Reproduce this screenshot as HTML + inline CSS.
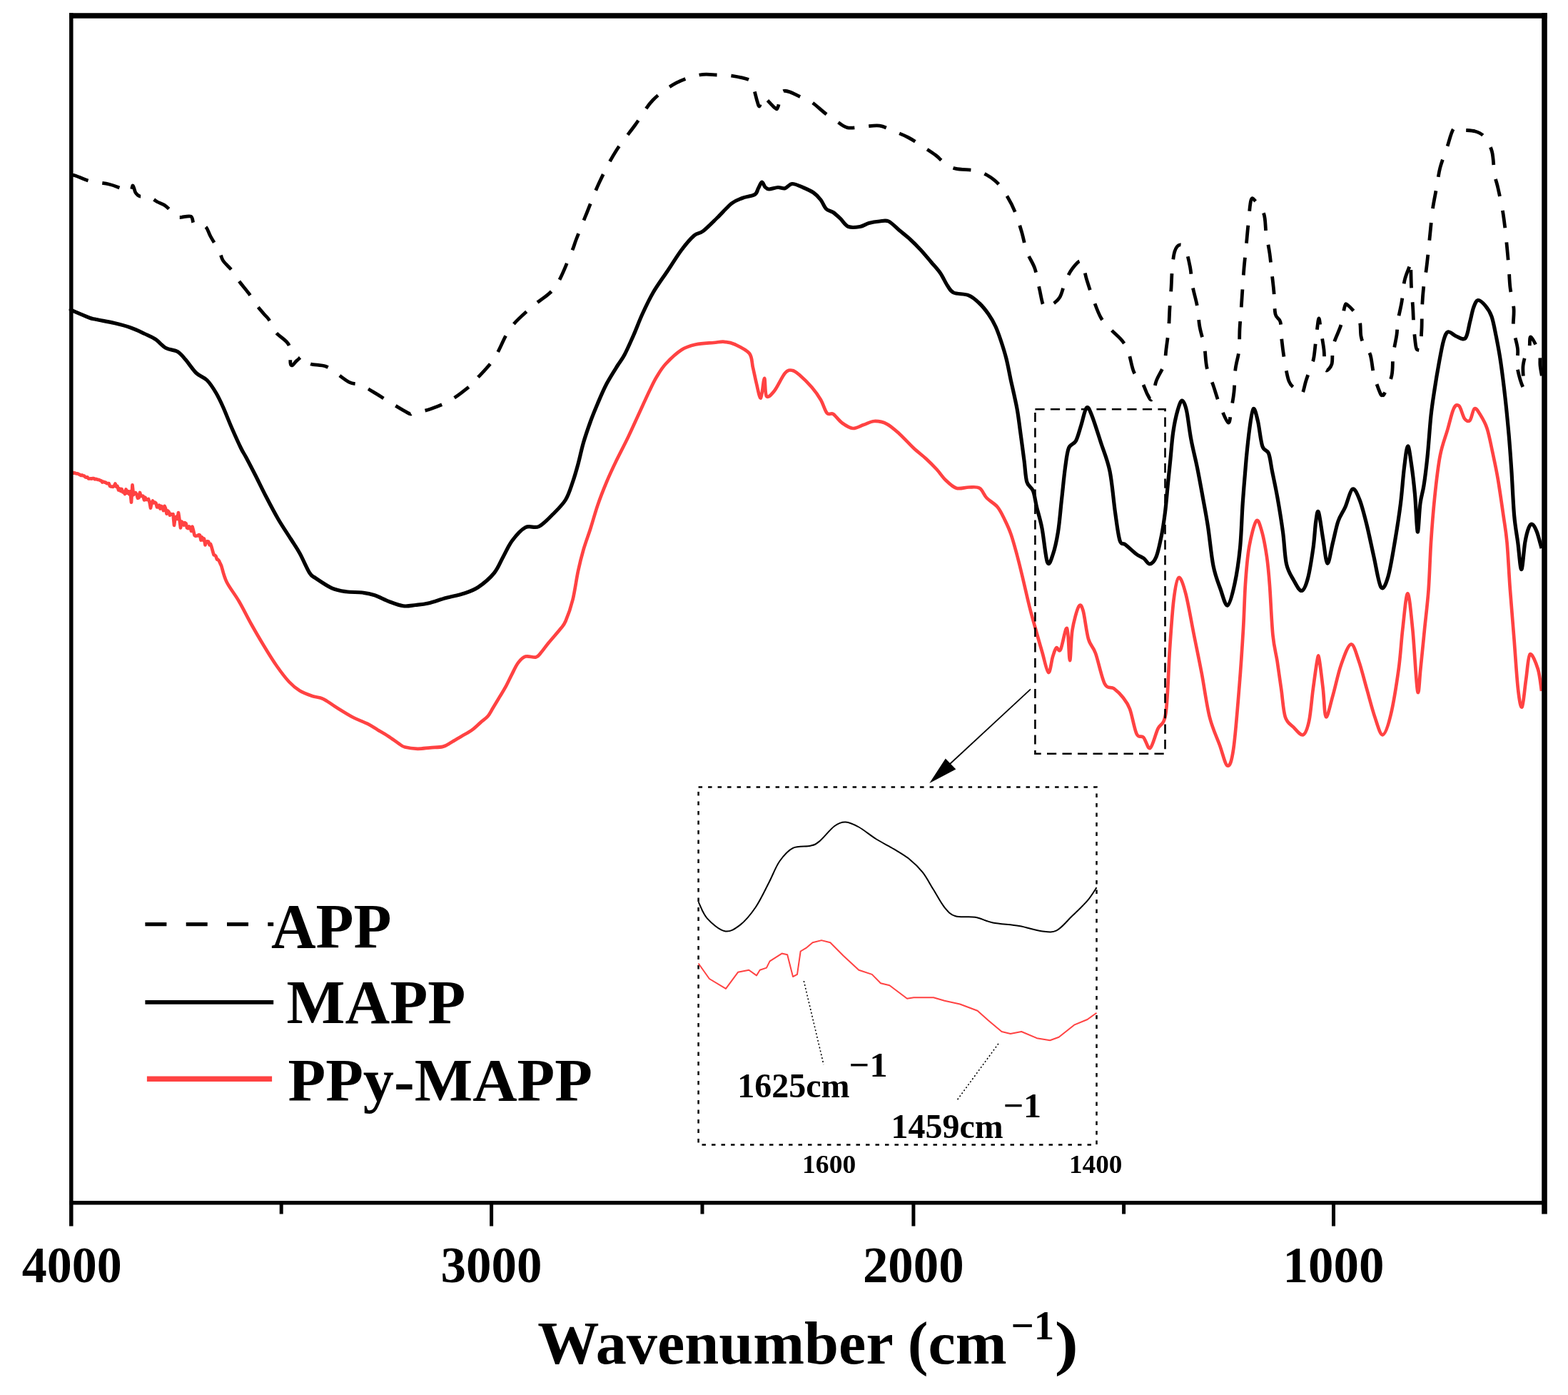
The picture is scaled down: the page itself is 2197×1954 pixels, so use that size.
<!DOCTYPE html>
<html><head><meta charset="utf-8"><title>FTIR spectra</title>
<style>html,body{margin:0;padding:0;background:#fff;}svg{display:block;}</style>
</head><body>
<svg width="2197" height="1954" viewBox="0 0 2197 1954">
<rect width="2197" height="1954" fill="#fff"/>
<g fill="none" stroke-linejoin="round" stroke-linecap="butt">
<path d="M100.0,245.0 C101.0,245.2 101.9,244.8 106.2,246.2 C110.6,247.7 118.5,251.8 126.2,253.8 C134.0,255.7 145.2,256.3 152.5,258.0 C159.8,259.7 165.0,262.1 170.0,263.8 C175.0,265.4 179.8,268.6 182.5,268.0 C185.2,267.4 185.0,259.7 186.2,260.0 C187.5,260.3 188.3,267.5 190.0,270.0 C191.7,272.5 193.3,274.2 196.2,275.0 C199.2,275.8 203.5,273.2 207.5,274.5 C211.5,275.8 215.8,280.1 220.0,282.5 C224.2,284.9 228.1,285.4 232.5,288.8 C236.9,292.1 242.9,299.9 246.2,302.5 C249.6,305.1 249.0,304.4 252.5,304.5 C256.0,304.6 264.2,301.6 267.5,303.2 C270.8,304.9 269.2,312.2 272.5,314.5 C275.8,316.8 283.8,314.2 287.5,317.0 C291.2,319.8 291.7,325.3 295.0,331.2 C298.3,337.2 304.6,346.9 307.5,352.5 C310.4,358.1 309.6,360.6 312.5,365.0 C315.4,369.4 321.2,374.0 325.0,378.8 C328.8,383.5 331.0,388.3 335.0,393.8 C339.0,399.2 344.6,405.5 348.8,411.2 C352.9,417.0 356.5,423.2 360.0,428.0 C363.5,432.8 367.2,436.7 370.0,440.0 C372.8,443.3 374.2,443.7 377.0,448.0 C379.8,452.3 381.9,459.8 386.5,465.7 C391.1,471.6 401.4,475.8 404.9,483.4 C408.4,490.9 405.6,507.4 407.5,511.0 C409.4,514.6 413.2,507.0 416.0,505.0 C418.8,503.0 421.7,499.0 424.0,499.0 C426.3,499.0 428.1,503.2 430.0,505.0 C431.9,506.8 431.1,508.7 435.4,510.0 C439.7,511.3 450.5,511.2 456.0,513.0 C461.5,514.8 462.9,517.0 468.5,520.7 C474.1,524.4 483.0,532.2 489.3,535.4 C495.6,538.6 500.0,537.0 506.4,539.7 C512.8,542.5 521.0,547.8 527.8,551.9 C534.6,556.0 540.6,560.0 547.3,564.1 C554.0,568.2 563.5,573.8 568.1,576.4 C572.7,579.0 573.0,579.6 575.0,580.0 C577.0,580.4 575.0,580.0 579.8,578.8 C584.6,577.6 594.8,575.8 603.6,572.7 C612.4,569.6 622.7,565.9 632.5,560.0 C642.3,554.1 656.9,542.1 662.5,537.5 C668.1,532.9 661.2,538.4 666.2,532.5 C671.2,526.6 684.4,514.1 692.5,502.0 C700.6,489.9 706.2,472.0 715.0,460.0 C723.8,448.0 734.6,439.6 745.0,430.0 C755.4,420.4 768.3,415.0 777.5,402.5 C786.7,390.0 795.0,366.2 800.0,355.0 C805.0,343.8 803.8,344.6 807.5,335.0 C811.2,325.4 817.1,310.8 822.5,297.5 C827.9,284.2 833.3,269.2 840.0,255.0 C846.7,240.8 854.2,225.8 862.5,212.5 C870.8,199.2 881.2,187.1 890.0,175.0 C898.8,162.9 905.4,149.8 915.0,140.0 C924.6,130.2 936.7,122.1 947.5,116.2 C958.3,110.4 970.4,106.9 980.0,105.0 C989.6,103.1 997.5,104.8 1005.0,105.0 C1012.5,105.2 1017.5,105.1 1025.0,106.2 C1032.5,107.4 1045.0,109.7 1050.0,112.0 C1055.0,114.3 1053.2,115.0 1055.0,120.0 C1056.8,125.0 1059.5,137.2 1061.0,142.0 C1062.5,146.8 1063.0,149.3 1064.0,149.0 C1065.0,148.7 1065.9,142.2 1067.0,140.0 C1068.1,137.8 1067.4,134.2 1070.5,136.0 C1073.6,137.8 1082.5,148.7 1085.7,151.0 C1089.0,153.3 1088.0,153.9 1090.0,150.0 C1092.0,146.1 1092.0,129.8 1097.8,127.6 C1103.5,125.4 1117.7,134.3 1124.5,137.0 C1131.3,139.7 1133.2,140.3 1138.6,144.0 C1143.9,147.7 1150.9,154.7 1156.6,159.0 C1162.2,163.3 1167.3,166.7 1172.5,170.0 C1177.7,173.3 1181.2,177.5 1187.5,178.8 C1193.8,180.0 1202.5,177.9 1210.0,177.5 C1217.5,177.1 1225.4,175.2 1232.5,176.2 C1239.6,177.3 1245.8,181.0 1252.5,183.8 C1259.2,186.5 1265.8,189.0 1272.5,192.5 C1279.2,196.0 1286.0,200.8 1292.5,205.0 C1299.0,209.2 1306.2,213.8 1311.2,217.5 C1316.2,221.2 1317.9,224.4 1322.5,227.5 C1327.1,230.6 1331.5,234.4 1338.8,236.2 C1346.0,238.1 1359.0,237.3 1366.2,238.8 C1373.5,240.2 1377.3,242.1 1382.5,245.0 C1387.7,247.9 1392.7,251.2 1397.5,256.2 C1402.3,261.2 1407.1,268.1 1411.2,275.0 C1415.4,281.9 1419.2,289.4 1422.5,297.5 C1425.8,305.6 1428.5,314.6 1431.2,323.8 C1434.0,332.9 1435.6,343.8 1438.8,352.5 C1441.9,361.2 1447.1,367.7 1450.0,376.2 C1452.9,384.8 1454.2,395.0 1456.2,403.8 C1458.3,412.5 1459.8,424.8 1462.5,428.8 C1465.2,432.7 1468.8,429.6 1472.5,427.5 C1476.2,425.4 1481.7,421.7 1485.0,416.2 C1488.3,410.8 1489.6,401.7 1492.5,395.0 C1495.4,388.3 1498.8,381.0 1502.5,376.2 C1506.2,371.5 1511.7,363.8 1515.0,366.2 C1518.3,368.8 1519.8,382.7 1522.5,391.2 C1525.2,399.8 1527.9,408.5 1531.2,417.5 C1534.6,426.5 1538.3,437.7 1542.5,445.0 C1546.7,452.3 1551.2,455.8 1556.2,461.2 C1561.2,466.7 1568.3,472.1 1572.5,477.5 C1576.7,482.9 1578.5,486.5 1581.2,493.8 C1584.0,501.0 1585.6,514.4 1588.8,521.2 C1591.9,528.1 1596.8,529.7 1600.0,535.0 C1603.2,540.3 1605.7,549.0 1608.0,553.0 C1610.3,557.0 1612.0,562.2 1614.0,559.0 C1616.0,555.8 1617.2,542.0 1620.0,534.0 C1622.8,526.0 1628.7,518.5 1631.0,511.0 C1633.3,503.5 1632.9,497.5 1634.0,489.0 C1635.1,480.5 1636.7,469.7 1637.5,460.0 C1638.3,450.3 1638.4,440.3 1639.0,431.0 C1639.6,421.7 1640.4,413.2 1641.0,404.0 C1641.6,394.8 1641.7,384.7 1642.5,376.0 C1643.3,367.3 1644.2,357.5 1646.0,352.0 C1647.8,346.5 1650.5,343.5 1653.0,343.0 C1655.5,342.5 1658.6,343.8 1661.0,349.0 C1663.4,354.2 1665.8,365.3 1667.5,374.0 C1669.2,382.7 1669.3,391.8 1671.0,401.0 C1672.7,410.2 1675.8,419.5 1677.5,429.0 C1679.2,438.5 1679.3,448.7 1681.0,458.0 C1682.7,467.3 1685.8,475.5 1687.5,485.0 C1689.2,494.5 1688.9,505.8 1691.0,515.0 C1693.1,524.2 1697.0,531.3 1700.0,540.0 C1703.0,548.7 1705.5,558.3 1709.0,567.0 C1712.5,575.7 1718.3,590.8 1721.0,592.0 C1723.7,593.2 1723.7,581.2 1725.0,574.0 C1726.3,566.8 1728.0,558.5 1729.0,549.0 C1730.0,539.5 1729.8,526.7 1731.0,517.0 C1732.2,507.3 1735.0,500.3 1736.0,491.0 C1737.0,481.7 1736.5,470.5 1737.0,461.0 C1737.5,451.5 1738.3,443.5 1739.0,434.0 C1739.7,424.5 1740.3,413.7 1741.0,404.0 C1741.7,394.3 1742.2,385.7 1743.0,376.0 C1743.8,366.3 1745.0,356.3 1746.0,346.0 C1747.0,335.7 1747.8,325.0 1749.0,314.0 C1750.2,303.0 1751.2,285.2 1753.0,280.0 C1754.8,274.8 1757.0,279.7 1760.0,283.0 C1763.0,286.3 1768.7,292.8 1771.0,300.0 C1773.3,307.2 1772.7,316.8 1774.0,326.0 C1775.3,335.2 1777.7,345.7 1779.0,355.0 C1780.3,364.3 1781.0,372.8 1782.0,382.0 C1783.0,391.2 1784.2,400.3 1785.0,410.0 C1785.8,419.7 1785.5,433.2 1787.0,440.0 C1788.5,446.8 1792.5,444.8 1794.0,451.0 C1795.5,457.2 1795.0,467.8 1796.0,477.0 C1797.0,486.2 1798.3,496.5 1800.0,506.0 C1801.7,515.5 1803.5,527.5 1806.0,534.0 C1808.5,540.5 1812.0,542.0 1815.0,545.0 C1818.0,548.0 1821.5,554.0 1824.0,552.0 C1826.5,550.0 1827.7,540.0 1830.0,533.0 C1832.3,526.0 1836.2,515.5 1838.0,510.0 C1839.8,504.5 1839.8,507.5 1841.0,500.0 C1842.2,492.5 1843.8,474.0 1845.0,465.0 C1846.2,456.0 1847.0,446.0 1848.0,446.0 C1849.0,446.0 1849.8,457.7 1851.0,465.0 C1852.2,472.3 1854.0,481.2 1855.0,490.0 C1856.0,498.8 1855.2,514.7 1857.0,518.0 C1858.8,521.3 1864.2,515.7 1866.0,510.0 C1867.8,504.3 1865.8,493.2 1868.0,484.0 C1870.2,474.8 1876.3,464.0 1879.0,455.0 C1881.7,446.0 1882.5,434.7 1884.0,430.0 C1885.5,425.3 1884.7,424.3 1888.0,427.0 C1891.3,429.7 1900.8,438.7 1904.0,446.0 C1907.2,453.3 1905.7,464.5 1907.0,471.0 C1908.3,477.5 1909.8,480.7 1912.0,485.0 C1914.2,489.3 1917.8,490.3 1920.0,497.0 C1922.2,503.7 1922.7,516.0 1925.0,525.0 C1927.3,534.0 1932.0,546.3 1934.0,551.0 C1936.0,555.7 1936.0,553.0 1937.0,553.0 C1938.0,553.0 1937.8,555.5 1940.0,551.0 C1942.2,546.5 1948.0,535.0 1950.0,526.0 C1952.0,517.0 1950.8,506.5 1952.0,497.0 C1953.2,487.5 1955.9,476.8 1957.0,469.0 C1958.1,461.2 1957.3,457.7 1958.5,450.0 C1959.7,442.3 1962.4,432.5 1964.0,423.0 C1965.6,413.5 1966.2,401.3 1968.0,393.0 C1969.8,384.7 1973.6,377.2 1975.0,373.0 C1976.4,368.8 1976.1,363.2 1976.5,368.0 C1976.9,372.8 1977.0,391.7 1977.5,402.0 C1978.0,412.3 1979.0,420.7 1979.6,430.0 C1980.2,439.3 1980.3,448.7 1981.0,458.0 C1981.7,467.3 1983.0,480.7 1984.0,486.0 C1985.0,491.3 1986.0,489.8 1987.0,490.0 C1988.0,490.2 1989.2,492.0 1990.0,487.0 C1990.8,482.0 1991.6,469.0 1992.0,460.0 C1992.4,451.0 1992.1,442.5 1992.5,433.0 C1992.9,423.5 1993.6,412.3 1994.6,403.0 C1995.6,393.7 1997.3,386.0 1998.5,377.0 C1999.7,368.0 2000.6,358.5 2001.6,349.0 C2002.6,339.5 2003.5,329.5 2004.5,320.0 C2005.5,310.5 2006.1,301.7 2007.5,292.0 C2008.9,282.3 2011.3,271.5 2013.0,262.0 C2014.7,252.5 2015.4,244.2 2017.8,235.0 C2020.2,225.8 2024.2,216.2 2027.4,207.0 C2030.6,197.8 2033.4,184.2 2037.0,180.0 C2040.6,175.8 2044.0,181.3 2049.0,182.0 C2054.0,182.7 2061.9,182.4 2067.0,184.0 C2072.1,185.6 2075.6,186.8 2079.5,191.5 C2083.4,196.2 2088.0,203.3 2090.4,212.0 C2092.8,220.7 2092.6,235.0 2094.0,243.5 C2095.4,252.0 2097.0,254.9 2098.8,263.0 C2100.6,271.1 2103.3,283.0 2104.9,292.0 C2106.5,301.0 2107.4,308.0 2108.5,317.0 C2109.6,326.0 2110.6,336.5 2111.5,346.0 C2112.4,355.5 2113.2,364.5 2114.0,374.0 C2114.8,383.5 2114.8,393.3 2116.0,403.0 C2117.2,412.7 2120.2,422.5 2121.0,432.0 C2121.8,441.5 2119.6,450.5 2120.5,460.0 C2121.4,469.5 2125.6,479.8 2126.5,489.0 C2127.4,498.2 2124.6,505.8 2126.0,515.0 C2127.4,524.2 2133.7,544.3 2135.0,544.0 C2136.3,543.7 2133.2,522.0 2134.0,513.0 C2134.8,504.0 2138.5,494.5 2140.0,490.0 C2141.5,485.5 2142.2,489.0 2143.0,486.0 C2143.8,483.0 2142.7,470.7 2145.0,472.0 C2147.3,473.3 2154.4,487.3 2156.6,494.0 C2158.8,500.7 2157.4,506.5 2158.0,512.0 C2158.6,517.5 2160.0,524.5 2160.4,527.0" stroke="#000" stroke-width="4.8" stroke-dasharray="25 20"/>
<path d="M100.0,434.0 C100.2,434.2 97.1,433.2 101.2,435.0 C105.4,436.8 119.4,442.9 125.0,445.0 C130.6,447.1 129.2,446.2 135.0,447.5 C140.8,448.8 152.1,450.6 160.0,452.5 C167.9,454.4 175.4,456.2 182.5,458.8 C189.6,461.2 196.7,464.8 202.5,467.5 C208.3,470.2 212.5,471.7 217.5,475.0 C222.5,478.3 227.3,484.6 232.5,487.5 C237.7,490.4 244.2,489.8 248.8,492.5 C253.3,495.2 255.6,498.8 260.0,503.8 C264.4,508.8 270.0,517.7 275.0,522.5 C280.0,527.3 285.4,527.9 290.0,532.5 C294.6,537.1 298.8,543.8 302.5,550.0 C306.2,556.2 308.8,561.7 312.5,570.0 C316.2,578.3 320.8,590.4 325.0,600.0 C329.2,609.6 334.2,620.7 337.5,627.5 C340.8,634.3 341.7,634.8 345.0,641.0 C348.3,647.2 352.9,656.0 357.5,665.0 C362.1,674.0 367.1,684.6 372.5,695.0 C377.9,705.4 384.2,717.5 390.0,727.5 C395.8,737.5 402.5,747.1 407.5,755.0 C412.5,762.9 415.6,767.1 420.0,775.0 C424.4,782.9 430.0,796.7 433.8,802.5 C437.5,808.3 437.3,806.5 442.5,810.0 C447.7,813.5 457.9,820.6 465.0,823.8 C472.1,826.9 477.9,827.7 485.0,828.8 C492.1,829.8 500.8,829.2 507.5,830.0 C514.2,830.8 518.8,831.7 525.0,833.8 C531.2,835.8 538.3,840.0 545.0,842.5 C551.7,845.0 558.8,847.9 565.0,848.8 C571.2,849.6 576.7,848.1 582.5,847.5 C588.3,846.9 592.9,846.7 600.0,845.0 C607.1,843.3 616.7,839.8 625.0,837.5 C633.3,835.2 642.5,833.8 650.0,831.2 C657.5,828.8 662.9,827.3 670.0,822.5 C677.1,817.7 686.7,809.6 692.5,802.5 C698.3,795.4 700.8,787.5 705.0,780.0 C709.2,772.5 712.3,764.4 717.5,757.5 C722.7,750.6 730.0,742.1 736.2,738.8 C742.5,735.4 748.5,740.6 755.0,737.5 C761.5,734.4 768.8,726.2 775.0,720.0 C781.2,713.8 787.9,707.5 792.5,700.0 C797.1,692.5 799.6,683.3 802.5,675.0 C805.4,666.7 807.5,659.2 810.0,650.0 C812.5,640.8 814.6,630.0 817.5,620.0 C820.4,610.0 824.2,599.2 827.5,590.0 C830.8,580.8 833.8,573.8 837.5,565.0 C841.2,556.2 845.4,546.2 850.0,537.5 C854.6,528.8 860.8,519.2 865.0,512.5 C869.2,505.8 871.2,504.1 875.0,497.0 C878.8,489.9 883.3,479.5 887.5,470.0 C891.7,460.5 895.4,450.0 900.0,440.0 C904.6,430.0 909.2,420.0 915.0,410.0 C920.8,400.0 928.3,390.0 935.0,380.0 C941.7,370.0 948.8,358.3 955.0,350.0 C961.2,341.7 967.5,334.4 972.5,330.0 C977.5,325.6 979.6,327.9 985.0,323.8 C990.4,319.6 998.3,311.5 1005.0,305.0 C1011.7,298.5 1019.2,289.6 1025.0,285.0 C1030.8,280.4 1034.6,279.6 1040.0,277.5 C1045.4,275.4 1053.8,274.8 1057.5,272.5 C1061.2,270.2 1060.8,266.7 1062.5,263.8 C1064.2,260.8 1065.9,255.3 1067.5,255.0 C1069.1,254.7 1070.3,260.3 1072.0,262.0 C1073.7,263.7 1074.5,264.9 1077.5,265.0 C1080.5,265.1 1086.2,262.7 1090.0,262.5 C1093.8,262.3 1096.7,264.6 1100.0,263.8 C1103.3,262.9 1105.8,257.7 1110.0,257.5 C1114.2,257.3 1120.0,260.4 1125.0,262.5 C1130.0,264.6 1135.8,267.1 1140.0,270.0 C1144.2,272.9 1147.1,276.2 1150.0,280.0 C1152.9,283.8 1154.6,289.6 1157.5,292.5 C1160.4,295.4 1164.2,295.2 1167.5,297.5 C1170.8,299.8 1174.0,302.9 1177.5,306.2 C1181.0,309.6 1184.2,315.6 1188.8,317.5 C1193.3,319.4 1200.2,318.3 1205.0,317.5 C1209.8,316.7 1212.9,313.8 1217.5,312.5 C1222.1,311.2 1227.9,310.4 1232.5,310.0 C1237.1,309.6 1240.4,307.9 1245.0,310.0 C1249.6,312.1 1255.0,318.3 1260.0,322.5 C1265.0,326.7 1270.0,330.4 1275.0,335.0 C1280.0,339.6 1285.0,344.6 1290.0,350.0 C1295.0,355.4 1300.4,362.1 1305.0,367.5 C1309.6,372.9 1313.8,377.1 1317.5,382.5 C1321.2,387.9 1324.4,395.4 1327.5,400.0 C1330.6,404.6 1331.2,407.7 1336.2,410.0 C1341.2,412.3 1351.5,411.2 1357.5,413.8 C1363.5,416.2 1367.9,420.6 1372.5,425.0 C1377.1,429.4 1381.2,434.6 1385.0,440.0 C1388.8,445.4 1392.1,451.2 1395.0,457.5 C1397.9,463.8 1400.0,470.0 1402.5,477.5 C1405.0,485.0 1407.7,493.4 1410.0,502.5 C1412.3,511.6 1413.8,520.3 1416.2,532.0 C1418.8,543.7 1422.7,559.9 1425.0,572.5 C1427.3,585.1 1428.3,595.4 1430.0,607.5 C1431.7,619.6 1433.5,633.8 1435.0,645.0 C1436.5,656.2 1436.7,667.9 1438.8,675.0 C1440.8,682.1 1445.2,681.7 1447.5,687.5 C1449.8,693.3 1450.4,701.2 1452.5,710.0 C1454.6,718.8 1457.5,727.1 1460.0,740.0 C1462.5,752.9 1465.0,781.2 1467.5,787.5 C1470.0,793.8 1472.5,784.6 1475.0,777.5 C1477.5,770.4 1480.4,757.9 1482.5,745.0 C1484.6,732.1 1485.8,715.0 1487.5,700.0 C1489.2,685.0 1490.8,667.1 1492.5,655.0 C1494.2,642.9 1495.0,633.8 1497.5,627.5 C1500.0,621.2 1504.6,622.9 1507.5,617.5 C1510.4,612.1 1512.5,602.8 1515.0,595.0 C1517.5,587.2 1520.0,573.1 1522.5,571.0 C1525.0,568.9 1526.7,574.3 1530.0,582.5 C1533.3,590.7 1538.3,607.1 1542.5,620.0 C1546.7,632.9 1551.7,643.8 1555.0,660.0 C1558.3,676.2 1560.2,701.3 1562.5,717.5 C1564.8,733.7 1566.6,749.4 1569.0,757.0 C1571.4,764.6 1573.2,759.8 1577.0,763.0 C1580.8,766.2 1587.8,772.8 1592.0,776.0 C1596.2,779.2 1599.3,779.7 1602.5,782.0 C1605.7,784.3 1608.1,790.3 1611.0,790.0 C1613.9,789.7 1617.2,786.7 1620.0,780.0 C1622.8,773.3 1625.4,760.4 1627.5,750.0 C1629.6,739.6 1631.0,729.2 1632.5,717.5 C1634.0,705.8 1635.0,692.5 1636.2,680.0 C1637.5,667.5 1638.8,655.0 1640.0,642.5 C1641.2,630.0 1642.1,616.2 1643.8,605.0 C1645.4,593.8 1647.9,582.3 1650.0,575.0 C1652.1,567.7 1654.2,561.2 1656.2,561.2 C1658.3,561.2 1660.4,566.0 1662.5,575.0 C1664.6,584.0 1666.2,601.7 1668.8,615.0 C1671.2,628.3 1674.8,641.7 1677.5,655.0 C1680.2,668.3 1682.5,681.2 1685.0,695.0 C1687.5,708.8 1690.0,721.2 1692.5,737.5 C1695.0,753.8 1697.1,777.9 1700.0,792.5 C1702.9,807.1 1706.7,815.8 1710.0,825.0 C1713.3,834.2 1716.7,849.2 1720.0,848.0 C1723.3,846.8 1727.1,830.9 1730.0,817.5 C1732.9,804.1 1735.6,786.2 1737.5,767.5 C1739.4,748.8 1739.8,725.8 1741.2,705.0 C1742.7,684.2 1744.6,660.4 1746.2,642.5 C1747.9,624.6 1749.6,609.2 1751.2,597.5 C1752.9,585.8 1754.4,573.8 1756.2,572.5 C1758.1,571.2 1760.4,581.2 1762.5,590.0 C1764.6,598.8 1766.2,617.5 1768.8,625.0 C1771.2,632.5 1775.2,629.2 1777.5,635.0 C1779.8,640.8 1780.4,649.6 1782.5,660.0 C1784.6,670.4 1787.5,683.3 1790.0,697.5 C1792.5,711.7 1795.4,729.6 1797.5,745.0 C1799.6,760.4 1800.0,778.8 1802.5,790.0 C1805.0,801.2 1809.0,806.2 1812.5,812.5 C1816.0,818.8 1820.4,827.9 1823.8,827.5 C1827.1,827.1 1829.8,820.0 1832.5,810.0 C1835.2,800.0 1838.1,780.8 1840.0,767.5 C1841.9,754.2 1842.5,738.3 1843.8,730.0 C1845.0,721.7 1845.8,713.3 1847.5,717.5 C1849.2,721.7 1851.7,743.1 1853.8,755.0 C1855.8,766.9 1857.7,788.2 1860.0,789.0 C1862.3,789.8 1865.0,769.8 1867.5,760.0 C1870.0,750.2 1872.1,738.3 1875.0,730.0 C1877.9,721.7 1881.7,717.5 1885.0,710.0 C1888.3,702.5 1891.7,686.7 1895.0,685.0 C1898.3,683.3 1901.7,691.7 1905.0,700.0 C1908.3,708.3 1911.7,721.7 1915.0,735.0 C1918.3,748.3 1921.7,765.4 1925.0,780.0 C1928.3,794.6 1931.7,817.9 1935.0,822.5 C1938.3,827.1 1941.7,818.8 1945.0,807.5 C1948.3,796.2 1952.1,772.1 1955.0,755.0 C1957.9,737.9 1960.4,721.7 1962.5,705.0 C1964.6,688.3 1965.8,668.3 1967.5,655.0 C1969.2,641.7 1970.8,625.8 1972.5,625.0 C1974.2,624.2 1975.8,638.8 1977.5,650.0 C1979.2,661.2 1981.0,676.7 1982.5,692.5 C1984.0,708.3 1985.0,742.9 1986.2,745.0 C1987.5,747.1 1988.5,715.8 1990.0,705.0 C1991.5,694.2 1993.3,690.8 1995.0,680.0 C1996.7,669.2 1998.3,656.3 2000.0,640.0 C2001.7,623.7 2003.3,597.9 2005.0,582.0 C2006.7,566.1 2008.3,557.1 2010.2,544.5 C2012.1,531.9 2014.5,517.9 2016.6,506.5 C2018.7,495.1 2020.8,483.1 2022.9,476.2 C2025.0,469.2 2026.2,465.6 2029.2,464.8 C2032.2,464.0 2036.6,469.6 2040.6,471.1 C2044.6,472.6 2050.1,477.0 2053.3,473.6 C2056.5,470.2 2057.7,458.1 2059.6,450.9 C2061.5,443.7 2062.8,435.7 2064.7,430.6 C2066.6,425.5 2068.3,420.9 2071.0,420.5 C2073.7,420.1 2077.9,424.3 2081.1,428.1 C2084.3,431.9 2087.5,436.1 2090.0,443.3 C2092.5,450.5 2094.2,460.6 2096.3,471.1 C2098.4,481.6 2100.5,492.1 2102.6,506.5 C2104.7,520.9 2107.1,540.3 2109.0,557.2 C2110.9,574.1 2112.5,590.9 2114.0,607.8 C2115.5,624.7 2116.5,639.4 2117.8,658.4 C2119.1,677.4 2120.1,704.8 2121.6,721.7 C2123.1,738.6 2125.0,747.0 2126.7,759.6 C2128.4,772.2 2130.0,797.6 2131.7,797.6 C2133.4,797.6 2135.1,769.3 2136.8,759.6 C2138.5,749.9 2140.2,743.6 2141.9,739.4 C2143.6,735.2 2145.0,733.4 2146.9,734.3 C2148.8,735.1 2151.0,738.9 2153.2,744.5 C2155.4,750.1 2158.9,764.1 2160.0,768.0" stroke="#000" stroke-width="5.2"/>
<path d="M100.0,661.0 L101.5,661.7 L103.0,662.7 L104.5,662.4 L106.0,663.0 L107.5,663.5 L109.0,663.4 L110.5,664.3 L112.0,665.0 L113.5,665.9 L115.0,665.4 L116.5,666.3 L118.0,666.6 L119.5,668.3 L121.0,668.7 L122.5,668.3 L124.0,670.3 L125.5,670.5 L127.0,670.3 L128.5,670.6 L130.0,670.1 L131.5,670.2 L133.0,671.3 L134.5,670.9 L136.0,671.4 L137.5,672.0 L139.0,672.1 L140.5,673.1 L142.0,673.5 L143.5,675.5 L145.0,674.7 L146.5,675.6 L148.0,675.7 L149.5,677.1 L151.0,677.1 L152.5,677.1 L154.0,680.8 L155.5,681.5 L157.0,681.7 L158.5,681.9 L160.0,680.5 L161.5,677.5 L163.0,681.8 L164.5,681.0 L166.0,686.5 L167.5,684.4 L169.0,687.8 L170.5,685.0 L172.0,689.3 L173.5,688.9 L175.0,692.0 L176.5,685.5 L178.0,690.7 L179.5,688.1 L181.0,692.1 L182.5,688.5 L184.0,703.7 L185.5,679.3 L187.0,693.1 L188.5,690.5 L190.0,690.1 L191.5,692.7 L193.0,697.8 L194.5,697.2 L196.0,690.0 L197.5,694.9 L199.0,694.5 L200.5,694.8 L202.0,700.4 L203.5,696.8 L205.0,700.0 L206.5,699.9 L208.0,699.0 L209.5,703.4 L211.0,711.6 L212.5,704.3 L214.0,701.5 L215.5,704.3 L217.0,703.6 L218.5,704.9 L220.0,710.5 L221.5,710.3 L223.0,707.8 L224.5,712.6 L226.0,708.9 L227.5,711.1 L229.0,715.1 L230.5,708.8 L232.0,712.3 L233.5,719.6 L235.0,715.5 L236.5,717.0 L238.0,721.7 L239.5,719.9 L241.0,720.9 L242.5,720.1 L244.0,735.8 L245.5,725.2 L247.0,723.7 L248.5,726.9 L250.0,718.0 L251.5,727.9 L253.0,739.4 L254.5,730.5 L256.0,732.3 L257.5,735.5 L259.0,732.1 L260.5,733.1 L262.0,739.4 L263.5,740.0 L265.0,737.5 L266.5,738.6 L268.0,743.9 L269.5,737.7 L271.0,743.2 L272.5,749.8 L274.0,750.9 L275.5,750.5 L277.0,750.4 L278.5,749.1 L280.0,749.5 L281.5,756.6 L283.0,752.5 L284.5,756.5 L286.0,754.6 L287.5,763.4 L289.0,759.2 L290.5,758.2 L292.0,758.5 L293.5,763.3 L295.0,761.9 L296.5,766.3 L298.0,771.9 L299.5,777.2 L301.0,777.7 L302.5,779.2 L304.0,783.6 L305.5,783.9 L307.0,785.8 L308.5,789.1 L310.2,792.6 C311.4,796.3 313.4,806.7 317.5,815.0 C321.6,823.3 329.2,832.5 335.0,842.5 C340.8,852.5 346.7,864.6 352.5,875.0 C358.3,885.4 364.2,895.4 370.0,905.0 C375.8,914.6 381.7,924.2 387.5,932.5 C393.3,940.8 399.6,949.2 405.0,955.0 C410.4,960.8 414.6,964.2 420.0,967.5 C425.4,970.8 432.1,973.1 437.5,975.0 C442.9,976.9 447.1,976.2 452.5,978.8 C457.9,981.2 462.9,985.6 470.0,990.0 C477.1,994.4 487.6,1001.1 495.0,1005.0 C502.4,1008.9 509.0,1010.7 514.7,1013.6 C520.4,1016.5 524.5,1019.5 529.4,1022.4 C534.3,1025.3 539.1,1028.0 544.0,1031.2 C548.9,1034.4 554.8,1038.9 558.7,1041.5 C562.6,1044.1 563.1,1045.4 567.5,1046.6 C571.9,1047.8 579.2,1048.7 585.1,1048.8 C591.0,1048.9 596.8,1047.8 602.7,1047.3 C608.6,1046.8 615.5,1047.1 620.4,1045.9 C625.3,1044.7 627.7,1042.5 632.1,1040.0 C636.5,1037.5 641.9,1034.1 646.8,1031.2 C651.7,1028.3 657.1,1025.6 661.5,1022.4 C665.9,1019.2 669.5,1015.3 673.2,1012.1 C676.9,1008.9 680.6,1006.7 683.5,1003.3 C686.4,999.9 688.1,995.9 690.8,991.5 C693.5,987.1 696.7,981.8 699.6,976.9 C702.5,972.0 705.5,967.6 708.4,962.2 C711.3,956.8 714.3,950.2 717.2,944.6 C720.1,939.0 722.8,932.6 726.0,928.4 C729.2,924.2 732.1,920.9 736.3,919.6 C740.5,918.3 747.3,921.4 751.0,920.4 C754.7,919.4 755.4,917.1 758.3,913.8 C761.2,910.5 764.2,905.9 768.6,900.5 C773.0,895.1 780.7,886.6 784.7,881.5 C788.7,876.4 789.5,876.9 792.5,870.0 C795.5,863.1 799.6,851.7 802.5,840.0 C805.4,828.3 807.5,811.7 810.0,800.0 C812.5,788.3 814.6,780.0 817.5,770.0 C820.4,760.0 824.2,750.4 827.5,740.0 C830.8,729.6 833.8,718.3 837.5,707.5 C841.2,696.7 845.8,685.0 850.0,675.0 C854.2,665.0 857.5,657.9 862.5,647.5 C867.5,637.1 874.6,623.8 880.0,612.5 C885.4,601.2 890.0,590.8 895.0,580.0 C900.0,569.2 905.8,556.2 910.0,547.5 C914.2,538.8 916.2,534.2 920.0,528.0 C923.8,521.8 926.7,516.3 932.5,510.0 C938.3,503.7 947.9,494.6 955.0,490.0 C962.1,485.4 967.5,484.2 975.0,482.5 C982.5,480.8 993.3,480.6 1000.0,480.0 C1006.7,479.4 1010.0,478.3 1015.0,478.8 C1020.0,479.2 1024.2,479.8 1030.0,482.5 C1035.8,485.2 1045.8,489.6 1050.0,495.0 C1054.2,500.4 1053.3,507.9 1055.0,515.0 C1056.7,522.1 1058.2,530.4 1060.0,537.5 C1061.8,544.6 1064.2,558.8 1066.0,557.5 C1067.8,556.2 1069.7,530.4 1071.0,530.0 C1072.3,529.6 1071.7,552.1 1074.0,555.0 C1076.3,557.9 1080.7,552.9 1085.0,547.5 C1089.3,542.1 1095.8,527.3 1100.0,522.5 C1104.2,517.7 1106.7,518.3 1110.0,518.8 C1113.3,519.2 1115.4,521.0 1120.0,525.0 C1124.6,529.0 1132.5,536.7 1137.5,542.5 C1142.5,548.3 1146.5,554.0 1150.0,560.0 C1153.5,566.0 1155.8,575.4 1158.8,578.8 C1161.7,582.1 1164.0,577.7 1167.5,580.0 C1171.0,582.3 1175.4,589.2 1180.0,592.5 C1184.6,595.8 1190.0,599.6 1195.0,600.0 C1200.0,600.4 1205.0,596.7 1210.0,595.0 C1215.0,593.3 1219.6,590.2 1225.0,590.0 C1230.4,589.8 1236.7,590.8 1242.5,593.8 C1248.3,596.7 1253.8,601.9 1260.0,607.5 C1266.2,613.1 1273.8,621.7 1280.0,627.5 C1286.2,633.3 1292.1,637.5 1297.5,642.5 C1302.9,647.5 1307.9,652.5 1312.5,657.5 C1317.1,662.5 1320.4,668.1 1325.0,672.5 C1329.6,676.9 1334.6,682.1 1340.0,683.8 C1345.4,685.4 1352.1,682.5 1357.5,682.5 C1362.9,682.5 1368.3,681.2 1372.5,683.8 C1376.7,686.2 1378.3,693.1 1382.5,697.5 C1386.7,701.9 1393.3,705.0 1397.5,710.0 C1401.7,715.0 1404.4,721.2 1407.5,727.5 C1410.6,733.8 1413.3,739.2 1416.2,747.5 C1419.2,755.8 1422.3,767.5 1425.0,777.5 C1427.7,787.5 1429.6,795.4 1432.5,807.5 C1435.4,819.6 1439.6,838.3 1442.5,850.0 C1445.4,861.7 1447.1,867.1 1450.0,877.5 C1452.9,887.9 1456.8,901.8 1460.0,912.5 C1463.2,923.2 1466.5,940.8 1469.0,942.0 C1471.5,943.2 1473.2,925.8 1475.0,920.0 C1476.8,914.2 1478.2,909.2 1480.0,907.5 C1481.8,905.8 1483.5,914.6 1486.0,910.0 C1488.5,905.4 1492.8,877.5 1495.0,880.0 C1497.2,882.5 1497.8,924.6 1499.0,925.0 C1500.2,925.4 1500.5,895.0 1502.5,882.5 C1504.5,870.0 1508.8,854.6 1511.2,850.0 C1513.8,845.4 1515.2,847.5 1517.5,855.0 C1519.8,862.5 1522.1,885.0 1525.0,895.0 C1527.9,905.0 1531.2,904.5 1535.0,915.0 C1538.8,925.5 1543.6,949.7 1547.9,957.9 C1552.2,966.1 1556.4,961.1 1560.7,964.3 C1565.0,967.5 1569.8,972.2 1573.5,977.0 C1577.2,981.8 1579.8,984.5 1583.0,993.0 C1586.2,1001.5 1589.4,1021.4 1592.6,1028.0 C1595.8,1034.6 1599.0,1029.5 1602.2,1032.8 C1605.4,1036.1 1608.2,1050.0 1611.5,1048.0 C1614.8,1046.0 1618.6,1029.2 1622.3,1021.0 C1626.0,1012.8 1630.7,1017.3 1633.5,998.7 C1636.3,980.1 1637.2,935.9 1639.0,909.4 C1640.8,882.9 1642.5,856.4 1644.6,839.7 C1646.7,823.0 1648.8,810.4 1651.6,809.0 C1654.4,807.6 1657.8,818.3 1661.3,831.3 C1664.8,844.3 1668.8,868.5 1672.5,887.1 C1676.2,905.7 1680.0,923.4 1683.7,942.9 C1687.4,962.4 1690.6,987.5 1694.8,1004.2 C1699.0,1020.9 1704.6,1031.9 1708.8,1043.3 C1713.0,1054.7 1716.7,1071.7 1719.9,1072.6 C1723.2,1073.5 1725.5,1067.7 1728.3,1048.9 C1731.1,1030.1 1734.3,987.6 1736.6,959.6 C1738.9,931.6 1740.6,904.7 1742.0,881.0 C1743.4,857.3 1743.7,836.4 1745.0,817.5 C1746.3,798.6 1747.5,782.1 1750.0,767.5 C1752.5,752.9 1757.1,734.2 1760.0,730.0 C1762.9,725.8 1765.0,734.2 1767.5,742.5 C1770.0,750.8 1773.1,767.1 1775.0,780.0 C1776.9,792.9 1777.6,801.7 1779.0,820.0 C1780.4,838.3 1781.7,872.3 1783.5,890.0 C1785.3,907.7 1787.6,913.7 1789.6,926.2 C1791.5,938.7 1793.3,952.2 1795.2,965.2 C1797.1,978.2 1798.0,995.4 1800.8,1004.2 C1803.6,1013.0 1807.7,1014.0 1811.9,1018.2 C1816.1,1022.4 1822.2,1030.7 1825.9,1029.3 C1829.6,1027.9 1831.9,1020.5 1834.2,1009.8 C1836.5,999.1 1837.9,979.1 1839.8,965.2 C1841.7,951.3 1844.0,933.4 1845.4,926.2 C1846.8,919.0 1846.8,915.5 1848.2,922.0 C1849.6,928.5 1852.2,951.5 1853.8,965.2 C1855.4,978.9 1855.7,1002.8 1858.0,1004.2 C1860.3,1005.6 1864.2,985.7 1867.7,973.6 C1871.2,961.5 1874.7,943.6 1878.9,931.7 C1883.1,919.9 1888.6,903.4 1892.8,902.5 C1897.0,901.6 1900.3,915.8 1904.0,926.2 C1907.7,936.7 1911.4,952.2 1915.1,965.2 C1918.8,978.2 1922.6,993.5 1926.3,1004.2 C1930.0,1014.9 1933.7,1029.8 1937.4,1029.3 C1941.1,1028.8 1944.9,1016.8 1948.6,1001.5 C1952.3,986.2 1956.9,957.3 1959.7,937.3 C1962.5,917.3 1963.2,899.2 1965.3,881.5 C1967.4,863.8 1970.0,831.3 1972.3,831.3 C1974.6,831.3 1977.0,858.7 1979.3,881.5 C1981.6,904.3 1984.3,958.7 1986.2,968.0 C1988.1,977.3 1988.8,951.7 1990.4,937.3 C1992.0,922.9 1994.1,900.1 1996.0,881.5 C1997.9,862.9 2000.1,846.0 2001.6,825.8 C2003.1,805.5 2003.6,781.6 2005.0,760.0 C2006.4,738.4 2008.1,716.7 2010.2,696.4 C2012.3,676.1 2014.8,653.8 2017.8,638.2 C2020.8,622.6 2024.8,613.7 2028.0,602.7 C2031.2,591.7 2034.1,578.1 2036.8,572.4 C2039.5,566.7 2041.9,566.3 2044.4,568.6 C2046.9,570.9 2049.5,582.9 2052.0,586.3 C2054.5,589.7 2057.3,591.1 2059.6,588.8 C2061.9,586.5 2063.6,573.9 2065.9,572.4 C2068.2,570.9 2070.6,575.4 2073.5,580.0 C2076.4,584.6 2080.7,591.4 2083.6,600.2 C2086.5,609.1 2088.7,621.3 2091.2,633.1 C2093.7,644.9 2096.3,656.2 2098.8,671.0 C2101.3,685.8 2104.3,706.9 2106.4,721.7 C2108.5,736.5 2109.9,742.2 2111.5,759.6 C2113.1,777.0 2114.2,803.1 2115.9,825.8 C2117.6,848.4 2119.7,872.3 2121.5,895.5 C2123.3,918.7 2125.2,949.4 2127.0,965.2 C2128.8,981.0 2130.7,992.6 2132.6,990.3 C2134.5,988.0 2136.3,963.6 2138.2,951.3 C2140.1,939.0 2141.0,918.7 2143.8,916.4 C2146.6,914.1 2152.2,928.7 2154.9,937.3 C2157.6,945.9 2159.2,962.9 2160.0,968.0" stroke="#FF4242" stroke-width="4.7"/>
</g>
<!-- frame -->
<g stroke="#000" fill="none">
<line x1="99.8" y1="18.3" x2="99.8" y2="1717.5" stroke-width="5.5"/>
<line x1="97" y1="22" x2="2167.8" y2="22" stroke-width="7.6"/>
<line x1="2164" y1="18.3" x2="2164" y2="1700.5" stroke-width="7.6"/>
<line x1="97" y1="1684.8" x2="2167" y2="1684.8" stroke-width="5.4"/>
<line x1="688.6" y1="1684" x2="688.6" y2="1717.5" stroke="#000" stroke-width="5"/><line x1="1279.9" y1="1684" x2="1279.9" y2="1717.5" stroke="#000" stroke-width="5"/><line x1="1868.5" y1="1684" x2="1868.5" y2="1717.5" stroke="#000" stroke-width="5"/><line x1="394.2" y1="1684" x2="394.2" y2="1700.5" stroke="#000" stroke-width="5"/><line x1="984.0" y1="1684" x2="984.0" y2="1700.5" stroke="#000" stroke-width="5"/><line x1="1574.6" y1="1684" x2="1574.6" y2="1700.5" stroke="#000" stroke-width="5"/>
</g>
<!-- zoom box + arrow -->
<rect x="1450.4" y="573.2" width="182.1" height="482.6" fill="none" stroke="#000" stroke-width="2.6" stroke-dasharray="13.2 8.3"/>
<line x1="1444" y1="965.4" x2="1330" y2="1071" stroke="#000" stroke-width="1.8"/>
<polygon points="1302.3,1097 1324.8,1062.5 1339.3,1077.6" fill="#000"/>
<!-- inset -->
<rect x="978.6" y="1102.5" width="557.9" height="501.1" fill="none" stroke="#000" stroke-width="2.5" stroke-dasharray="5.5 8"/>
<path d="M978.6,1263.2 C980.6,1267.0 984.7,1279.5 990.8,1286.3 C996.9,1293.1 1007.7,1302.7 1015.4,1304.2 C1023.1,1305.8 1029.8,1301.1 1037.0,1295.6 C1044.2,1290.1 1051.9,1280.8 1058.6,1271.0 C1065.3,1261.2 1071.4,1247.8 1077.0,1237.0 C1082.6,1226.2 1086.7,1214.5 1092.4,1206.3 C1098.1,1198.1 1103.8,1191.4 1111.0,1187.8 C1118.2,1184.2 1129.3,1186.2 1135.5,1184.7 C1141.7,1183.2 1142.2,1183.2 1147.9,1178.6 C1153.6,1174.0 1163.2,1161.5 1169.4,1157.0 C1175.6,1152.5 1179.2,1151.2 1184.8,1151.5 C1190.4,1151.8 1196.1,1154.5 1203.3,1158.5 C1210.5,1162.5 1219.8,1170.4 1228.0,1175.5 C1236.2,1180.6 1244.9,1184.7 1252.6,1189.3 C1260.3,1193.9 1267.3,1197.8 1274.0,1203.2 C1280.7,1208.6 1286.9,1214.5 1292.6,1221.7 C1298.3,1228.9 1302.9,1238.1 1308.0,1246.3 C1313.1,1254.5 1318.3,1264.8 1323.4,1271.0 C1328.5,1277.2 1331.6,1281.0 1338.8,1283.3 C1346.0,1285.6 1357.8,1283.3 1366.5,1284.8 C1375.2,1286.3 1381.0,1290.5 1391.2,1292.5 C1401.5,1294.5 1416.7,1295.1 1428.0,1297.1 C1439.3,1299.0 1450.2,1303.2 1459.0,1304.2 C1467.8,1305.2 1473.3,1306.8 1480.5,1303.3 C1487.7,1299.8 1494.8,1290.2 1502.0,1283.3 C1509.2,1276.4 1517.8,1268.4 1523.6,1261.7 C1529.3,1255.0 1534.3,1246.3 1536.5,1243.2" fill="none" stroke="#000" stroke-width="2"/>
<path d="M978.6,1349.5 L993.9,1371.0 L1017.0,1384.9 L1034.0,1361.8 L1049.3,1358.7 L1060.0,1366.4 L1064.7,1358.7 L1074.0,1355.6 L1078.6,1346.4 L1095.5,1335.6 L1103.2,1337.2 L1111.0,1368.0 L1117.0,1364.9 L1121.7,1332.5 L1129.4,1327.9 L1138.6,1320.2 L1151.0,1317.1 L1163.3,1320.2 L1181.7,1338.7 L1203.3,1358.7 L1221.8,1364.9 L1234.0,1377.2 L1246.4,1380.3 L1271.0,1398.8 L1280.3,1397.2 L1308.0,1397.2 L1323.4,1401.8 L1345.0,1406.5 L1369.6,1415.7 L1385.0,1429.6 L1403.5,1445.0 L1415.8,1448.0 L1431.2,1445.0 L1452.8,1454.2 L1471.2,1457.3 L1483.6,1452.7 L1505.1,1435.7 L1523.6,1428.0 L1536.5,1418.8" fill="none" stroke="#FF4242" stroke-width="2" stroke-linejoin="round"/>
<line x1="1126.3" y1="1374.1" x2="1154" y2="1491.1" stroke="#000" stroke-width="1.6" stroke-dasharray="2 3"/>
<line x1="1398.9" y1="1461.9" x2="1340.3" y2="1542" stroke="#000" stroke-width="1.6" stroke-dasharray="2 3"/>
<g font-family="'Liberation Serif', 'Times New Roman', serif" font-weight="bold" fill="#000"><text transform="translate(1033.15,1536.63) scale(0.9996,1)" font-size="48.07">1625cm</text>
<text transform="translate(1189.85,1507.50) scale(1.0269,1)" font-size="48.93">−1</text>
<text transform="translate(1248.56,1594.33) scale(0.9878,1)" font-size="48.52">1459cm</text>
<text transform="translate(1405.56,1565.00) scale(1.0132,1)" font-size="49.38">−1</text>
<text transform="translate(1124.09,1643.44) scale(1.0223,1)" font-size="36.75">1600</text>
<text transform="translate(1498.02,1643.44) scale(1.0121,1)" font-size="36.75">1400</text>
<text transform="translate(30.74,1795.69) scale(0.9654,1)" font-size="72.47">4000</text>
<text transform="translate(617.53,1795.69) scale(0.9809,1)" font-size="72.32">3000</text>
<text transform="translate(1208.93,1795.69) scale(0.9795,1)" font-size="72.32">2000</text>
<text transform="translate(1797.52,1795.69) scale(0.9790,1)" font-size="72.47">1000</text>
<text transform="translate(753.18,1909.79) scale(1.0254,1)" font-size="84.15">Wavenumber (cm</text>
<text transform="translate(1416.41,1875.90) scale(0.9810,1)" font-size="57.87">−1</text>
<text transform="translate(1477.80,1909.79) scale(1.1799,1)" font-size="84.15">)</text>
<text transform="translate(379.95,1326.80) scale(0.9672,1)" font-size="89.68">APP</text>
<text transform="translate(401.41,1433.30) scale(1.0104,1)" font-size="86.04">MAPP</text>
<text transform="translate(403.42,1541.85) scale(1.0095,1)" font-size="85.50">PPy-MAPP</text></g>
<line x1="203.4" y1="1294.7" x2="383.2" y2="1294.7" stroke="#000" stroke-width="5.2" stroke-dasharray="30 27.3"/>
<line x1="203.4" y1="1403.9" x2="383.2" y2="1403.9" stroke="#000" stroke-width="5.7"/>
<line x1="205.9" y1="1511.3" x2="381.1" y2="1511.3" stroke="#FF4242" stroke-width="7.5"/>
</svg>
</body></html>
